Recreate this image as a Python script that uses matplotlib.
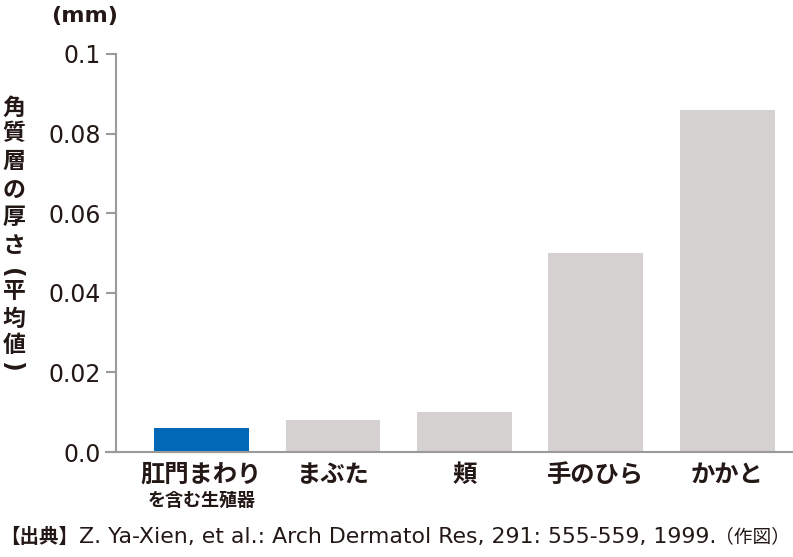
import matplotlib
matplotlib.use("Agg")
import matplotlib.pyplot as plt

plt.rcParams['font.family'] = ['Noto Sans CJK JP', 'DejaVu Sans']

categories = ["肛門まわり", "まぶた", "頬", "手のひら", "かかと"]
sub_labels = ["を含む生殖器", "", "", "", ""]
values = [0.006, 0.008, 0.010, 0.050, 0.086]
colors = ["#0068b7", "#d4d1d0", "#d4d1d0", "#d4d1d0", "#d4d1d0"]
yticks = [0.0, 0.02, 0.04, 0.06, 0.08, 0.1]
ytick_labels = ["0.0", "0.02", "0.04", "0.06", "0.08", "0.1"]
ylabel_chars = ["角", "質", "層", "の", "厚", "さ", "(", "平", "均", "値", ")"]
unit = "(mm)"
caption_head = "【出典】"
caption_body = "Z. Ya-Xien, et al.: Arch Dermatol Res, 291: 555-559, 1999."
caption_tail = "（作図）"

text_col = "#231815"
spine_col = "#9a9a9a"
W, H = 793, 557

fig = plt.figure(figsize=(7.93, 5.57), dpi=100)
ax = fig.add_axes([116/W, 1-452/H, 1-116/W, (452-54)/H])

x = range(len(categories))
ax.bar(x, values, width=0.72, color=colors)
ax.set_xlim(-0.65, 4.5)
ax.set_ylim(0, 0.1)

for s in ["top", "right"]:
    ax.spines[s].set_visible(False)
for s in ["left", "bottom"]:
    ax.spines[s].set_color(spine_col)
    ax.spines[s].set_linewidth(1.5)
ax.spines["bottom"].set_bounds(-0.65 - 10/131.5, 4.5)

ax.set_yticks(yticks)
ax.set_yticklabels(ytick_labels, fontsize=17, color=text_col, family=['DejaVu Sans'])
ax.tick_params(axis='y', length=7, width=1.5, color=spine_col, pad=4)
ax.set_xticks(list(x))
ax.set_xticklabels(categories, fontsize=17.5, fontweight='bold', color=text_col)
ax.tick_params(axis='x', length=0, pad=8)

for i, s in enumerate(sub_labels):
    if s:
        ax.text(i, -0.0121, s, ha='center', va='center', fontsize=13, fontweight='bold',
                color=text_col, clip_on=False)

# vertical y-axis label, one character per line (pixel centres from the reference)
ylabel_pos = [108, 134, 162, 191, 218, 246, 273, 292, 319, 346, 366]
for ch, yc in zip(ylabel_chars, ylabel_pos):
    if ch in "()":
        fig.text(11/W, 1-yc/H, ch, ha='center', va='center', rotation=-90,
                 fontsize=17, fontweight='bold',
                 color=text_col, family=['DejaVu Sans'])
    else:
        fig.text(14/W, 1-yc/H, ch, ha='center', va='center',
                 fontsize=16.5, fontweight='bold', color=text_col)

fig.text(85/W, 1-16/H, unit, ha='center', va='center', fontsize=16,
         fontweight='bold', color=text_col, family=['DejaVu Sans'])

fig.text(39/W, 1-537/H, caption_head, ha='center', va='center', fontsize=14,
         fontweight='bold', color=text_col)
body = fig.text(79/W, 1-537/H, caption_body, ha='left', va='center', fontsize=14,
                color=text_col, family=['DejaVu Sans'])
fig.text(753/W, 1-537/H, caption_tail, ha='center', va='center', fontsize=13.5,
         color=text_col)

# fit caption body to the width it takes in the reference (79..718 px)
fig.canvas.draw()
bw = body.get_window_extent().width
body.set_fontsize(14 * (718 - 79) / bw)

fig.savefig("out.png", dpi=100)
